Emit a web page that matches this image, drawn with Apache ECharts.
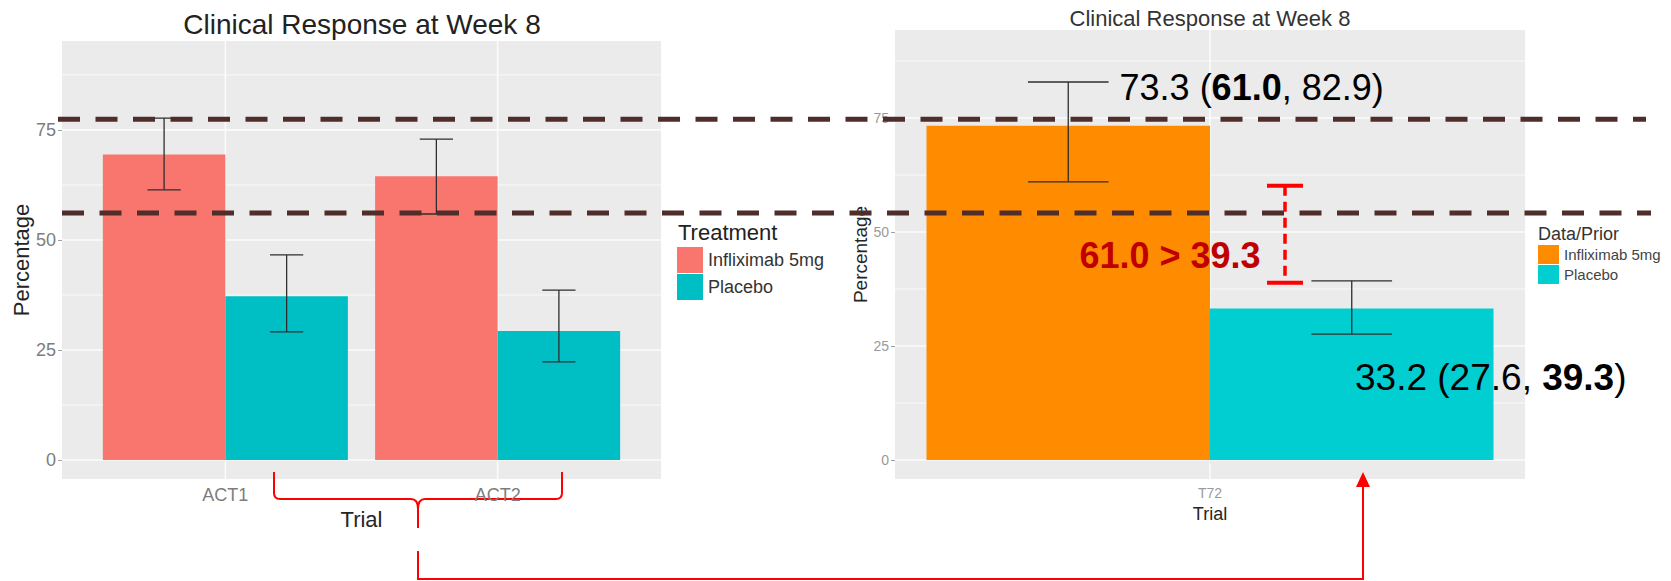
<!DOCTYPE html>
<html>
<head>
<meta charset="utf-8">
<title>Clinical Response at Week 8</title>
<script src="https://cdn.jsdelivr.net/npm/echarts@6/dist/echarts.min.js"></script>
<style>
  html, body { margin: 0; padding: 0; background: #fff; }
  #chart { width: 1671px; height: 581px; }
</style>
</head>
<body>
<div id="chart"></div>
<script>
// ACT1 / ACT2 trials (left panel)
const actTrials = ['ACT1', 'ACT2']
const actInflix = [69.4, 64.5]
const actInflixLow = [61.4, 55.9]
const actInflixHigh = [77.7, 72.9]
const actPlacebo = [37.2, 29.3]
const actPlaceboLow = [29.1, 22.3]
const actPlaceboHigh = [46.6, 38.6]

// T72 trial (right panel)
const t72Trials = ['T72']
const t72Inflix = [73.3]
const t72InflixLow = [61.0]
const t72InflixHigh = [82.9]
const t72Placebo = [33.2]
const t72PlaceboLow = [27.6]
const t72PlaceboHigh = [39.3]

const yTicks = [0, 25, 50, 75]
const yMinorTicks = [12.5, 37.5, 62.5, 87.5]
// dashed reference band, read on the left panel scale
const refLines = [77.4, 56.1]
// red comparison on the right panel: lower bound of drug vs upper bound of placebo
const compareRange = [61.0, 39.3]

const FONT = '"Liberation Sans", Arial, Helvetica, sans-serif'
const PINK = '#F8766D'
const TEAL = '#00BFC4'
const ORANGE = '#FF8C00'
const TURQ = '#00CED1'

function gridLines(idx, nCats) {
  const rows = []
  yTicks.forEach(v => rows.push([0, v, 1.6]))
  yMinorTicks.forEach(v => rows.push([0, v, 0.9]))
  for (let i = 1; i <= nCats; i++) rows.push([1, i, 1.6])
  return {
    type: 'custom', xAxisIndex: idx, yAxisIndex: idx, z: 1, silent: true,
    data: rows,
    renderItem(params, api) {
      const cs = params.coordSys
      const w = api.value(2)
      if (api.value(0) === 0) {
        const y = api.coord([1, api.value(1)])[1]
        return { type: 'line', shape: { x1: cs.x, y1: y, x2: cs.x + cs.width, y2: y }, style: { stroke: '#fbfbfb', lineWidth: w } }
      }
      const x = api.coord([api.value(1), 0])[0]
      return { type: 'line', shape: { x1: x, y1: cs.y, x2: x, y2: cs.y + cs.height }, style: { stroke: '#fbfbfb', lineWidth: w } }
    }
  }
}

function bars(name, color, idx, values, offset) {
  return {
    name, type: 'custom', xAxisIndex: idx, yAxisIndex: idx, z: 2,
    itemStyle: { color },
    data: values.map((v, i) => [i + 1, v]),
    renderItem(params, api) {
      const x = api.value(0) + offset
      const p0 = api.coord([x - 0.225, api.value(1)])
      const p1 = api.coord([x + 0.225, 0])
      return {
        type: 'rect',
        shape: { x: p0[0], y: p0[1], width: p1[0] - p0[0], height: p1[1] - p0[1] },
        style: { fill: color }
      }
    }
  }
}

function errorBars(idx, low, high, offset, capHalf) {
  return {
    type: 'custom', xAxisIndex: idx, yAxisIndex: idx, z: 3, silent: true,
    data: low.map((l, i) => [i + 1, l, high[i]]),
    renderItem(params, api) {
      const x = api.value(0) + offset
      const lo = api.coord([x, api.value(1)])
      const hi = api.coord([x, api.value(2)])
      const cl = api.coord([x - capHalf, 0])[0]
      const cr = api.coord([x + capHalf, 0])[0]
      const style = { stroke: '#2e2e2e', lineWidth: 1.3 }
      return {
        type: 'group',
        children: [
          { type: 'line', shape: { x1: lo[0], y1: lo[1], x2: hi[0], y2: hi[1] }, style },
          { type: 'line', shape: { x1: cl, y1: hi[1], x2: cr, y2: hi[1] }, style },
          { type: 'line', shape: { x1: cl, y1: lo[1], x2: cr, y2: lo[1] }, style }
        ]
      }
    }
  }
}

function xAxis(idx, cats, min, max, labelSize, labelColor, nameSize, nameGap) {
  const vals = cats.map((c, i) => i + 1)
  return {
    gridIndex: idx, type: 'value', min, max,
    name: 'Trial', nameLocation: 'middle', nameGap,
    nameTextStyle: { fontSize: nameSize, color: '#252525', fontFamily: FONT },
    axisLine: { show: false },
    splitLine: { show: false },
    axisTick: { show: true, customValues: vals, length: 4, lineStyle: { color: '#a0a0a0' } },
    axisLabel: {
      customValues: vals, margin: 7, fontSize: labelSize, color: labelColor, fontFamily: FONT,
      formatter: v => cats[Math.round(v) - 1]
    }
  }
}

function yAxis(idx, min, max, labelSize, labelColor, nameSize, nameGap) {
  return {
    gridIndex: idx, type: 'value', min, max,
    name: 'Percentage', nameLocation: 'middle', nameGap,
    nameTextStyle: { fontSize: nameSize, color: '#252525', fontFamily: FONT },
    axisLine: { show: false },
    splitLine: { show: false },
    axisTick: { show: true, customValues: yTicks, length: 4, lineStyle: { color: '#a0a0a0' } },
    axisLabel: { customValues: yTicks, margin: 6, fontSize: labelSize, color: labelColor, fontFamily: FONT }
  }
}

const chart = echarts.init(document.getElementById('chart'), null, { renderer: 'svg' })

chart.setOption({
  animation: false,
  backgroundColor: '#fff',
  grid: [
    { left: 62, top: 41, width: 599, height: 438, show: true, backgroundColor: '#EBEBEB', borderWidth: 0 },
    { left: 895, top: 30, width: 630, height: 449, show: true, backgroundColor: '#EBEBEB', borderWidth: 0 }
  ],
  xAxis: [
    xAxis(0, actTrials, 0.4, 2.6, 18, '#7d7d7d', 22, 27),
    xAxis(1, t72Trials, 0.5, 1.5, 14, '#9a9a9a', 18, 21)
  ],
  yAxis: [
    yAxis(0, -4.3, 95.2, 18, '#7d7d7d', 22, 28),
    yAxis(1, -4.17, 94.3, 14, '#9a9a9a', 19, 23)
  ],
  legend: [
    {
      left: 677, top: 247, padding: 0, orient: 'vertical', icon: 'rect',
      itemWidth: 26, itemHeight: 26, itemGap: 1, selectedMode: false,
      textStyle: { fontSize: 18, color: '#333', fontFamily: FONT },
      data: [
        { name: 'Infliximab 5mg', itemStyle: { color: PINK } },
        { name: 'Placebo', itemStyle: { color: TEAL } }
      ]
    },
    {
      left: 1538, top: 245, padding: 0, orient: 'vertical', icon: 'rect',
      itemWidth: 21, itemHeight: 19, itemGap: 1, selectedMode: false,
      textStyle: { fontSize: 15, color: '#444', fontFamily: FONT },
      data: [
        { name: 'Infliximab 5mg', itemStyle: { color: ORANGE } },
        { name: 'Placebo', itemStyle: { color: TURQ } }
      ]
    }
  ],
  series: [
    gridLines(0, actTrials.length),
    gridLines(1, t72Trials.length),
    bars('Infliximab 5mg', PINK, 0, actInflix, -0.225),
    bars('Placebo', TEAL, 0, actPlacebo, 0.225),
    bars('Infliximab 5mg', ORANGE, 1, t72Inflix, -0.225),
    bars('Placebo', TURQ, 1, t72Placebo, 0.225),
    errorBars(0, actInflixLow, actInflixHigh, -0.225, 0.061),
    errorBars(0, actPlaceboLow, actPlaceboHigh, 0.225, 0.061),
    errorBars(1, t72InflixLow, t72InflixHigh, -0.225, 0.064),
    errorBars(1, t72PlaceboLow, t72PlaceboHigh, 0.225, 0.064)
  ]
})

// overlay annotations, anchored on the axes where they refer to values
const refTop = chart.convertToPixel({ gridIndex: 0 }, [1, refLines[0]])[1]
const refBot = chart.convertToPixel({ gridIndex: 0 }, [1, refLines[1]])[1]
const cmpTop = chart.convertToPixel({ gridIndex: 1 }, [1, compareRange[0]])[1] + 4
const cmpBot = chart.convertToPixel({ gridIndex: 1 }, [1, compareRange[1]])[1] + 2
const drugCap = chart.convertToPixel({ gridIndex: 1 }, [1 - 0.225 + 0.064, t72InflixHigh[0]])
const dash = { stroke: '#4F2D2A', lineWidth: 5, lineDash: [22, 15.5] }
const red = { stroke: '#FF0000', lineWidth: 2, fill: null }
const rich = (size, color) => ({
  n: { fontSize: size, fill: color, fontFamily: FONT },
  b: { fontSize: size, fill: color, fontFamily: FONT, fontWeight: 'bold' }
})
const seg = (x1, y1, x2, y2) => ({ type: 'line', shape: { x1, y1, x2, y2 }, style: red })
const curve = (x1, y1, cpx1, cpy1, x2, y2) => ({ type: 'bezierCurve', shape: { x1, y1, cpx1, cpy1, x2, y2 }, style: red })

chart.setOption({
  graphic: [
    { type: 'text', x: 362, y: 24, z: 10, style: { text: 'Clinical Response at Week 8', fontSize: 28, fill: '#222', fontFamily: FONT, align: 'center', verticalAlign: 'middle' } },
    { type: 'text', x: 1210, y: 18, z: 10, style: { text: 'Clinical Response at Week 8', fontSize: 22, fill: '#333', fontFamily: FONT, align: 'center', verticalAlign: 'middle' } },
    { type: 'text', x: 678, y: 232, z: 10, style: { text: 'Treatment', fontSize: 22, fill: '#222', fontFamily: FONT, align: 'left', verticalAlign: 'middle' } },
    { type: 'text', x: 1538, y: 234, z: 10, style: { text: 'Data/Prior', fontSize: 18, fill: '#333', fontFamily: FONT, align: 'left', verticalAlign: 'middle' } },
    { type: 'line', z: 20, shape: { x1: 58, y1: refTop, x2: 1646, y2: refTop }, style: dash },
    { type: 'line', z: 20, shape: { x1: 62, y1: refBot, x2: 1651, y2: refBot }, style: dash },
    {
      type: 'text', x: drugCap[0] + 11, y: drugCap[1] + 6, z: 25,
      style: { text: '{n|73.3 (}{b|61.0}{n|, 82.9)}', rich: rich(36, '#000'), align: 'left', verticalAlign: 'middle' }
    },
    {
      type: 'text', x: 1355, y: 377, z: 25,
      style: { text: '{n|33.2 (27.6, }{b|39.3}{n|)}', rich: rich(37, '#000'), align: 'left', verticalAlign: 'middle' }
    },
    {
      type: 'text', x: 1170, y: 255, z: 25,
      style: { text: '61.0 > 39.3', fontSize: 36, fontWeight: 'bold', fill: '#C00000', fontFamily: FONT, align: 'center', verticalAlign: 'middle' }
    },
    { type: 'line', z: 25, shape: { x1: 1285, y1: cmpTop, x2: 1285, y2: cmpBot }, style: { stroke: '#FF0000', lineWidth: 3.5, lineDash: [10, 6] } },
    { type: 'line', z: 25, shape: { x1: 1267, y1: cmpTop, x2: 1303, y2: cmpTop }, style: { stroke: '#FF0000', lineWidth: 4 } },
    { type: 'line', z: 25, shape: { x1: 1267, y1: cmpBot, x2: 1303, y2: cmpBot }, style: { stroke: '#FF0000', lineWidth: 4 } },
    {
      type: 'group', z: 25,
      children: [
        seg(274, 472, 274, 493),
        curve(274, 493, 274, 499, 280, 499),
        seg(280, 499, 411, 499),
        curve(411, 499, 418, 499, 418, 509),
        seg(418, 509, 418, 528),
        curve(418, 509, 418, 499, 425, 499),
        seg(425, 499, 556, 499),
        curve(556, 499, 562, 499, 562, 493),
        seg(562, 493, 562, 472)
      ]
    },
    { type: 'polyline', z: 25, shape: { points: [[418, 551], [418, 579], [1363, 579], [1363, 484]] }, style: red },
    { type: 'polygon', z: 25, shape: { points: [[1356, 487], [1363, 472], [1370, 487]] }, style: { fill: '#FF0000' } }
  ]
})
</script>
</body>
</html>
